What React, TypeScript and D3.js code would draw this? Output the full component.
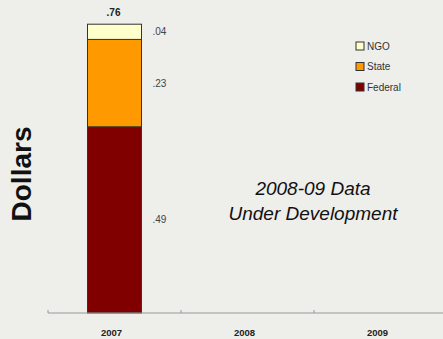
import React from "react";
import * as d3 from "d3";

const categories = ["2007", "2008", "2009"];
const seriesNames = ["Federal", "State", "NGO"];
const federal = [0.49, null, null];
const state = [0.23, null, null];
const ngo = [0.04, null, null];
const totals = [".76", null, null];
const segLabels = { Federal: [".49"], State: [".23"], NGO: [".04"] } as Record<string, string[]>;
const colors: Record<string, string> = { Federal: "#800000", State: "#ff9900", NGO: "#ffffcc" };
const legendOrder = ["NGO", "State", "Federal"];

const W = 443, H = 339;

export default function App() {
  const x = d3.scaleBand().domain(categories).range([48, 447]).paddingInner(0).paddingOuter(0);
  const y = d3.scaleLinear().domain([0, 0.8]).range([313, 9]);
  const barW = 54;

  const rows = categories.map((c, i) => ({ cat: c, Federal: federal[i] ?? 0, State: state[i] ?? 0, NGO: ngo[i] ?? 0 }));
  const stack = d3.stack<any>().keys(seriesNames)(rows);

  const font = "Arial, 'Liberation Sans', sans-serif";

  return (
    <svg width={W} height={H} style={{ position: "absolute", left: 0, top: 0, fontFamily: font }}>
      <rect x={0} y={0} width={W} height={H} fill="#eeeeea" />
      {stack.map((s) =>
        s.map((d, i) => {
          if (d[1] - d[0] <= 0) return null;
          const cx = (x(categories[i]) ?? 0) + x.bandwidth() / 2;
          return (
            <g key={s.key + i}>
              <rect
                x={cx - barW / 2}
                y={y(d[1])}
                width={barW}
                height={y(d[0]) - y(d[1])}
                fill={colors[s.key]}
                stroke="#333"
                strokeWidth={1}
              />
              <text
                x={cx + barW / 2 + 11}
                y={(y(d[0]) + y(d[1])) / 2 + 3.5}
                fontSize={10}
                fill="#444"
              >
                {segLabels[s.key][i]}
              </text>
            </g>
          );
        })
      )}
      {categories.map((c, i) =>
        totals[i] ? (
          <text
            key={"t" + c}
            x={(x(c) ?? 0) + x.bandwidth() / 2 - 1}
            y={y((federal[i] ?? 0) + (state[i] ?? 0) + (ngo[i] ?? 0)) - 8}
            fontSize={10}
            fontWeight="bold"
            textAnchor="middle"
            fill="#222"
          >
            {totals[i]}
          </text>
        ) : null
      )}
      <line x1={48} x2={W} y1={313} y2={313} stroke="#999" strokeWidth={1} />
      {categories.map((c) => (
        <line key={"tk" + c} x1={x(c)} x2={x(c)} y1={310} y2={313} stroke="#999" strokeWidth={1} />
      ))}
      {categories.map((c) => (
        <text
          key={"l" + c}
          x={(x(c) ?? 0) + x.bandwidth() / 2 - 3}
          y={336}
          fontSize={9.5}
          fontWeight="bold"
          textAnchor="middle"
          fill="#222"
        >
          {c}
        </text>
      ))}
      <text
        transform="translate(31,174) rotate(-90)"
        textAnchor="middle"
        fontSize={28}
        fontWeight="bold"
        fill="#111"
      >
        Dollars
      </text>
      {legendOrder.map((k, i) => (
        <g key={"lg" + k} transform={`translate(356,${42 + i * 20.5})`}>
          <rect x={0} y={0} width={8} height={8} fill={colors[k]} stroke="#333" strokeWidth={1} />
          <text x={11} y={7.5} fontSize={10} fill="#333">
            {k}
          </text>
        </g>
      ))}
      <text x={313} y={195} textAnchor="middle" fontSize={19} fontStyle="italic" fill="#111">
        2008-09 Data
      </text>
      <text x={313} y={220} textAnchor="middle" fontSize={19} fontStyle="italic" fill="#111">
        Under Development
      </text>
    </svg>
  );
}
